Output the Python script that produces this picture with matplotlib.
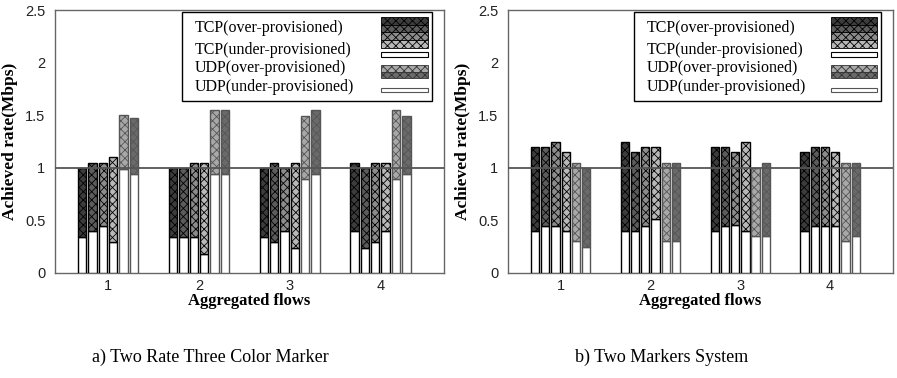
import numpy as np
import matplotlib.pyplot as plt
from matplotlib.patches import Rectangle

plt.rcParams['hatch.linewidth'] = 0.6

groups = [1, 2, 3, 4]
yticks = [0, 0.5, 1, 1.5, 2, 2.5]
ytick_labels = ['0', '0.5', '1', '1.5', '2', '2.5']

# rows: flows (4 TCP then 2 UDP), cols: aggregated flows 1..4
trtcm_under = [[0.34, 0.34, 0.34, 0.395],
               [0.395, 0.34, 0.29, 0.24],
               [0.45, 0.34, 0.395, 0.29],
               [0.29, 0.18, 0.24, 0.395],
               [0.99, 0.94, 0.89, 0.89],
               [0.94, 0.94, 0.94, 0.94]]
trtcm_total = [[1.0, 1.0, 1.0, 1.05],
               [1.05, 1.0, 1.05, 1.0],
               [1.05, 1.05, 1.0, 1.05],
               [1.1, 1.05, 1.05, 1.05],
               [1.5, 1.55, 1.49, 1.55],
               [1.47, 1.55, 1.55, 1.49]]

tms_under = [[0.40, 0.40, 0.40, 0.40],
             [0.45, 0.40, 0.45, 0.45],
             [0.45, 0.45, 0.46, 0.45],
             [0.40, 0.51, 0.40, 0.45],
             [0.30, 0.30, 0.355, 0.30],
             [0.245, 0.30, 0.355, 0.355]]
tms_total = [[1.2, 1.25, 1.2, 1.15],
             [1.2, 1.15, 1.2, 1.2],
             [1.25, 1.2, 1.15, 1.2],
             [1.15, 1.2, 1.25, 1.15],
             [1.05, 1.05, 1.0, 1.05],
             [1.0, 1.05, 1.05, 1.05]]

legend_labels = ['TCP(over-provisioned)', 'TCP(under-provisioned)',
                 'UDP(over-provisioned)', 'UDP(under-provisioned)']
captions = ['a) Two Rate Three Color Marker', 'b) Two Markers System']

over_faces = ['#3c3c3c', '#5c5c5c', '#8c8c8c', '#b8b8b8', '#a8a8a8', '#6a6a6a']
edges = ['black'] * 4 + ['#555555'] * 2
pitch = 0.114
width = 0.092
serif = ['Liberation Serif', 'DejaVu Serif']


def draw_legend(ax):
    kw = dict(transform=ax.transAxes, zorder=6)
    ax.add_patch(Rectangle((0.3265, 0.654), 0.6425, 0.338, facecolor='white',
                           edgecolor='black', lw=1, **kw))
    for lab, y in zip(legend_labels, [0.93, 0.848, 0.778, 0.706]):
        ax.text(0.36, y, lab, family=serif, fontsize=11.5, va='center',
                zorder=7, transform=ax.transAxes)
    hx, hw = 0.838, 0.121
    # TCP over: four stripes, one per TCP flow
    for k in range(4):
        ax.add_patch(Rectangle((hx, 0.944 - k * 0.0293), hw, 0.0293,
                               facecolor=over_faces[k], edgecolor='black',
                               hatch='xxxx', lw=0.6, **kw))
    ax.add_patch(Rectangle((hx, 0.821), hw, 0.019, facecolor='white',
                           edgecolor='black', lw=0.8, **kw))
    for k in range(2):
        ax.add_patch(Rectangle((hx, 0.766 - k * 0.025), hw, 0.025,
                               facecolor=over_faces[4 + k], edgecolor='#333333',
                               hatch='xxxx', lw=0.6, **kw))
    ax.add_patch(Rectangle((hx, 0.688), hw, 0.015, facecolor='white',
                           edgecolor='#555555', lw=0.8, **kw))


def draw_panel(ax, under, total, caption):
    for i in range(6):
        x = np.array(groups) + (i - 2.5) * pitch
        ax.bar(x, under[i], width, color='white', edgecolor=edges[i], lw=1, zorder=3)
        ax.bar(x, np.subtract(total[i], under[i]), width, bottom=under[i],
               color=over_faces[i], edgecolor=edges[i], hatch='xxxx', lw=1, zorder=3)
    ax.axhline(1, color='#555555', lw=1.3, zorder=4)
    ax.set_xlim(0.415, 4.7)
    ax.set_ylim(0, 2.5)
    ax.set_xticks(groups)
    ax.set_yticks(yticks)
    ax.set_yticklabels(ytick_labels)
    ax.tick_params(length=0, labelsize=10.5, colors='#222222', pad=7)
    ax.tick_params(axis='x', pad=4)
    for lab in ax.get_xticklabels() + ax.get_yticklabels():
        lab.set_family(['Liberation Sans', 'DejaVu Sans'])
    for s in ax.spines.values():
        s.set_color('#666666')
        s.set_linewidth(1)
    ax.set_xlabel('Aggregated flows', family=serif, fontweight='bold',
                  fontsize=12, labelpad=0)
    ax.set_ylabel('Achieved rate(Mbps)', family=serif, fontweight='bold',
                  fontsize=12.5, labelpad=5)
    draw_legend(ax)
    ax.text(0.40, -0.32, caption, transform=ax.transAxes, family=serif,
            fontsize=13, ha='center', va='center')


fig = plt.figure(figsize=(8.97, 3.78), dpi=100)
ax1 = fig.add_axes([55 / 897, 105 / 378, 389 / 897, 263 / 378])
ax2 = fig.add_axes([508 / 897, 105 / 378, 385 / 897, 263 / 378])
draw_panel(ax1, trtcm_under, trtcm_total, captions[0])
draw_panel(ax2, tms_under, tms_total, captions[1])
fig.savefig('out.png', dpi=100)
